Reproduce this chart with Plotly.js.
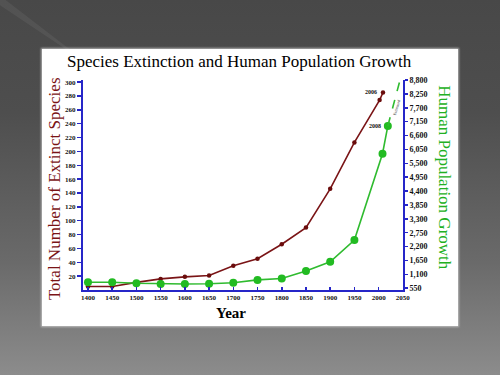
<!DOCTYPE html>
<html>
<head>
<meta charset="utf-8">
<script src="https://cdn.plot.ly/plotly-3.0.1.min.js"></script>
<style>
  html, body { margin:0; padding:0; width:500px; height:375px; overflow:hidden; }
  body { background: linear-gradient(to bottom, #484848 0%, #4e4e4e 30%, #6a6a6a 70%, #8c8c8c 100%); position:relative; }
  #tri { position:absolute; left:0; top:0; width:70px; height:52px; background:rgba(255,255,255,0.06); clip-path: polygon(0 0, 0 10%, 100% 100%, 100% 95%, 8% 0); }
  #chart { position:absolute; left:42px; top:49px; width:416px; height:277px; background:#fff; box-shadow: 0 0 2px 1px rgba(220,220,220,0.7); }
</style>
</head>
<body>
<div id="tri"></div>
<div id="chart"></div>
<script>
// Data
var yearsExtinct = [1400,1450,1500,1550,1600,1650,1700,1750,1800,1850,1900,1950,2002,2009];
var extinctSpecies = [5,5,11,16,19,21,35,45,66,90,146,213,274,285];

var yearsPopulation = [1400,1450,1500,1550,1600,1650,1700,1750,1800,1850,1900,1950,2008,2019];
var population = [785,785,745,720,720,725,770,880,935,1230,1600,2460,5880,6980];

var yearsEstimate = [2019,2046];
var populationEstimate = [6980,8930];

var xTicks = [1400,1450,1500,1550,1600,1650,1700,1750,1800,1850,1900,1950,2000,2050];
var leftTicks = [20,40,60,80,100,120,140,160,180,200,220,240,260,280,300];
var rightTicks = [550,1100,1650,2200,2750,3300,3850,4400,4950,5500,6050,6600,7150,7700,8250,8800];

var axisBlue = '#2626c8';
var red = '#7a1416';
var green = '#2fbb2f';
var tickFont = {family:'Liberation Serif, serif', size:7, color:'#111', weight:'bold'};

var traces = [
  {x: yearsExtinct, y: extinctSpecies, type:'scatter', mode:'lines+markers',
   line:{color:red, width:1.6}, marker:{color:'#6a0c0c', size:4.5}, yaxis:'y', cliponaxis:false, showlegend:false},
  {x: yearsPopulation, y: population, type:'scatter', mode:'lines+markers',
   line:{color:green, width:1.6}, marker:{color:'#22bb22', size:8}, yaxis:'y2', cliponaxis:false, showlegend:false},
  {x: yearsEstimate, y: populationEstimate, type:'scatter', mode:'lines+markers',
   line:{color:green, width:1.6, dash:'dash'}, marker:{color:'#22bb22', size:[0,9]}, yaxis:'y2', cliponaxis:false, showlegend:false}
];

var layout = {
  width:416, height:277,
  margin:{l:41, r:55, t:31, b:36},
  paper_bgcolor:'#ffffff', plot_bgcolor:'#ffffff',
  showlegend:false,
  xaxis:{range:[1389.7,2050.3], tickvals:xTicks, ticks:'inside', ticklen:3, tickwidth:1.5, tickcolor:axisBlue,
         showline:true, linecolor:axisBlue, linewidth:2, showgrid:false, zeroline:false,
         tickfont:tickFont, fixedrange:true},
  yaxis:{range:[0,303], tickvals:leftTicks, ticks:'outside', ticklen:4, tickwidth:1.5, tickcolor:axisBlue,
         showline:true, linecolor:axisBlue, linewidth:2, showgrid:false, zeroline:false,
         tickfont:tickFont},
  yaxis2:{range:[480,8800], overlaying:'y', side:'right', tickvals:rightTicks, tickformat:',',
          ticks:'outside', ticklen:3, tickwidth:1.5, tickcolor:axisBlue,
          showline:true, linecolor:axisBlue, linewidth:2, showgrid:false, zeroline:false,
          tickfont:{family:'Liberation Serif, serif', size:8, color:'#111', weight:'bold'}},
  annotations:[
    {text:'Species Extinction and Human Population Growth', xref:'paper', yref:'paper', x:0.49, y:1.086,
     xanchor:'center', yanchor:'middle',
     showarrow:false, font:{family:'Liberation Serif, serif', size:17, color:'#000'}},
    {text:'Total Number of Extinct Species', xref:'paper', yref:'paper', x:-0.089, y:0.483, textangle:-90,
     xanchor:'center', yanchor:'middle',
     showarrow:false, font:{family:'Liberation Serif, serif', size:17, color:'#7a1416'}},
    {text:'Human Population Growth', xref:'paper', yref:'paper', x:1.131, y:0.533, textangle:90,
     xanchor:'center', yanchor:'middle',
     showarrow:false, font:{family:'Liberation Serif, serif', size:17, color:'#22b022'}},
    {text:'Year', xref:'paper', yref:'paper', x:0.4625, y:-0.11,
     xanchor:'center', yanchor:'middle',
     showarrow:false, font:{family:'Liberation Serif, serif', size:15, color:'#000', weight:'bold'}},
    {text:'2006', xref:'x', yref:'y', x:2009, y:285, xanchor:'right', yanchor:'middle', xshift:-4, showarrow:false,
     font:{family:'Liberation Serif, serif', size:6, color:'#111', weight:'bold'}},
    {text:'2008', xref:'x', yref:'y2', x:2019, y:6980, xanchor:'right', yanchor:'middle', xshift:-5, showarrow:false,
     font:{family:'Liberation Serif, serif', size:6, color:'#111', weight:'bold'}},
    {text:'Estimated', xref:'x', yref:'y2', x:2037.5, y:7700, textangle:-74, xanchor:'center', yanchor:'middle', showarrow:false,
     font:{family:'Liberation Serif, serif', size:4, color:'#333'}}
  ]
};

Plotly.newPlot('chart', traces, layout, {displayModeBar:false, staticPlot:true});
</script>
</body>
</html>
